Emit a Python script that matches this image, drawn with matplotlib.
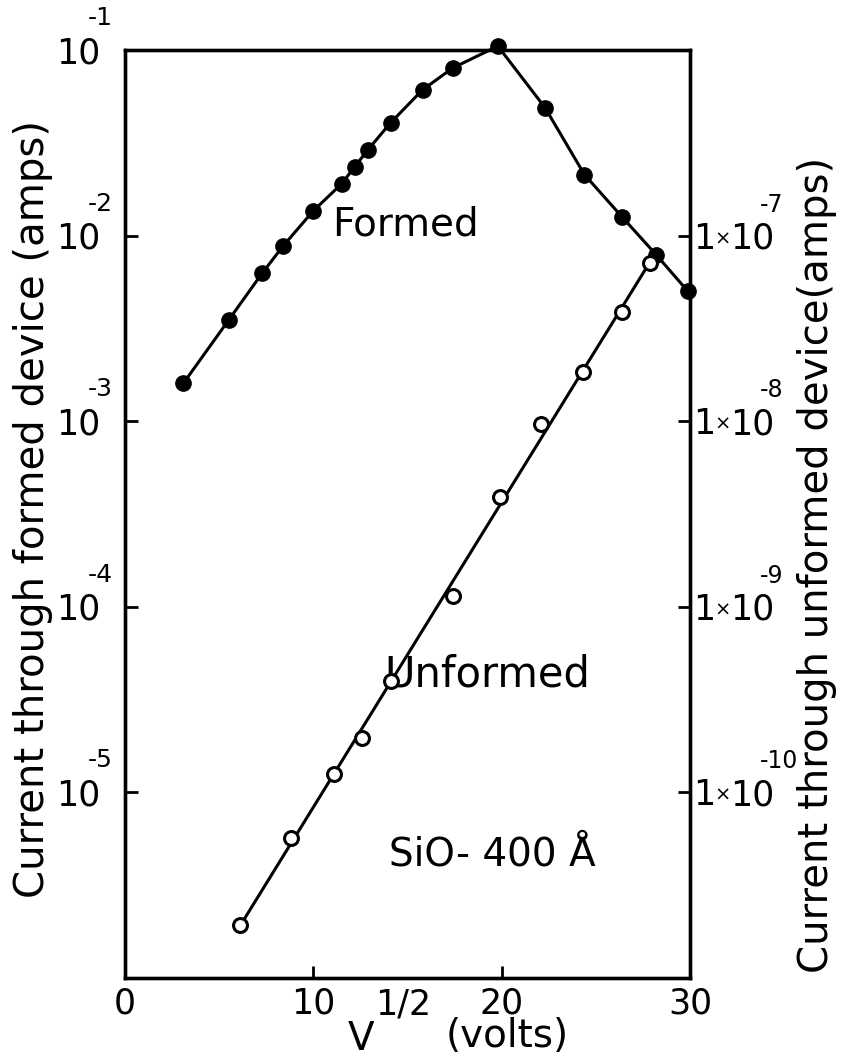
import numpy as np
import matplotlib
matplotlib.use("Agg")
import matplotlib.pyplot as plt
from matplotlib.transforms import offset_copy

# ---- data ----
formed_x = [3.1, 5.5, 7.3, 8.4, 10.0, 11.5, 12.2, 12.9, 14.1, 15.8, 17.4, 19.8, 22.3, 24.4, 26.4, 28.2, 29.9]
formed_y = [1.6e-3, 3.5e-3, 6.3e-3, 8.8e-3, 1.36e-2, 1.9e-2, 2.35e-2, 2.9e-2, 4.05e-2, 6.1e-2, 8.0e-2,
            1.05e-1, 4.9e-2, 2.13e-2, 1.26e-2, 7.9e-3, 5.0e-3]

unformed_x = [6.1, 8.8, 11.1, 12.6, 14.1, 17.4, 19.9, 22.1, 24.3, 26.4, 27.9]
unformed_y = [1.92e-11, 5.7e-11, 1.26e-10, 1.97e-10, 4.0e-10, 1.15e-9, 3.9e-9, 9.6e-9, 1.85e-8, 3.9e-8, 7.1e-8]

x_ticks = [0, 10, 20, 30]
left_ticks = [1e-1, 1e-2, 1e-3, 1e-4, 1e-5]
left_exponents = ["-1", "-2", "-3", "-4", "-5"]
right_ticks = [1e-7, 1e-8, 1e-9, 1e-10]
right_exponents = ["-7", "-8", "-9", "-10"]

plt.rcParams['font.family'] = ['DejaVu Sans']
plt.rcParams['mathtext.fontset'] = 'dejavusans'

fig = plt.figure(figsize=(8.56, 10.6), dpi=100)
ax = fig.add_axes([0.146, 0.0774, 0.66, 0.8754])
ax2 = ax.twinx()

FS = 25
LFS = 28
EFS = 18

# formed device (left axis)
ax.plot(formed_x, formed_y, '-', color='black', lw=2.2, marker='o', ms=11,
        mfc='black', mec='black', clip_on=False, zorder=3)
ax.set_yscale('log')
ax.set_ylim(1e-6, 1e-1)
ax.set_xlim(0, 30)

# unformed device (right axis) - straight fit line through the points
ux = np.array(unformed_x)
uy = np.log10(np.array(unformed_y))
coef = np.polyfit(ux, uy, 1)
fit_x = np.array([ux[0], ux[-1] + 0.4])
ax2.plot(fit_x, 10 ** np.polyval(coef, fit_x), '-', color='black', lw=2.2, zorder=2)
ax2.plot(unformed_x, unformed_y, 'o', ms=10, mfc='white', mec='black', mew=2.2, zorder=3)
ax2.set_yscale('log')
ax2.set_ylim(1e-11, 1e-6)

# ticks
ax.set_xticks(x_ticks)
ax.set_xticklabels([str(t) for t in x_ticks], fontsize=FS)
ax.set_yticks(left_ticks)
ax.set_yticklabels([""] * len(left_ticks))
ax.minorticks_off()
ax.tick_params(axis='both', direction='in', length=9, width=2)
ax.tick_params(axis='x', pad=6)

ax2.set_yticks(right_ticks)
ax2.set_yticklabels([""] * len(right_ticks))
ax2.minorticks_off()
ax2.tick_params(axis='y', direction='in', length=9, width=2)

# tick labels in the reference's "10 with raised exponent" style
ytr = ax.get_yaxis_transform()
for t, e in zip(left_ticks, left_exponents):
    ax.text(0, t, "10", fontsize=FS, ha='right', va='center',
            transform=offset_copy(ytr, fig=fig, x=-25, y=-3, units='dots'))
    ax.text(0, t, e, fontsize=EFS, ha='left', va='center',
            transform=offset_copy(ytr, fig=fig, x=-37, y=32, units='dots'))

ytr2 = ax2.get_yaxis_transform()
for t, e in zip(right_ticks, right_exponents):
    ax2.text(1, t, "1", fontsize=FS, ha='left', va='center',
             transform=offset_copy(ytr2, fig=fig, x=3, y=-3, units='dots'))
    ax2.text(1, t, "×", fontsize=14, ha='left', va='center',
             transform=offset_copy(ytr2, fig=fig, x=24, y=-3, units='dots'))
    ax2.text(1, t, "10", fontsize=FS, ha='left', va='center',
             transform=offset_copy(ytr2, fig=fig, x=40, y=-3, units='dots'))
    ax2.text(1, t, e, fontsize=EFS - 1, ha='left', va='center',
             transform=offset_copy(ytr2, fig=fig, x=70, y=31, units='dots'))

for a in (ax, ax2):
    for s in a.spines.values():
        s.set_linewidth(2.4)

ax.set_ylabel("Current through formed device (amps)", fontsize=LFS + 1)
ax.yaxis.set_label_coords(-0.128, 0.505)
ax2.set_ylabel("Current through unformed device(amps)", fontsize=LFS + 1)
ax2.yaxis.set_label_coords(1.19, 0.445)

# x-axis label: V^(1/2) (volts)
fig.text(0.422, 0.0094, "V", fontsize=LFS, ha='center', va='baseline')
fig.text(0.438, 0.0425, "1/2", fontsize=FS, ha='left', va='baseline')
fig.text(0.592, 0.012, "(volts)", fontsize=LFS, ha='center', va='baseline')

ax.text(11.0, 1.15e-2, "Formed", fontsize=LFS, ha='left', va='center')
ax.text(13.8, 4.3e-5, "Unformed", fontsize=LFS + 2, ha='left', va='center')
ax.text(14.0, 4.6e-6, "SiO- 400 Å", fontsize=LFS, ha='left', va='center')

fig.savefig("out.png", dpi=100)
